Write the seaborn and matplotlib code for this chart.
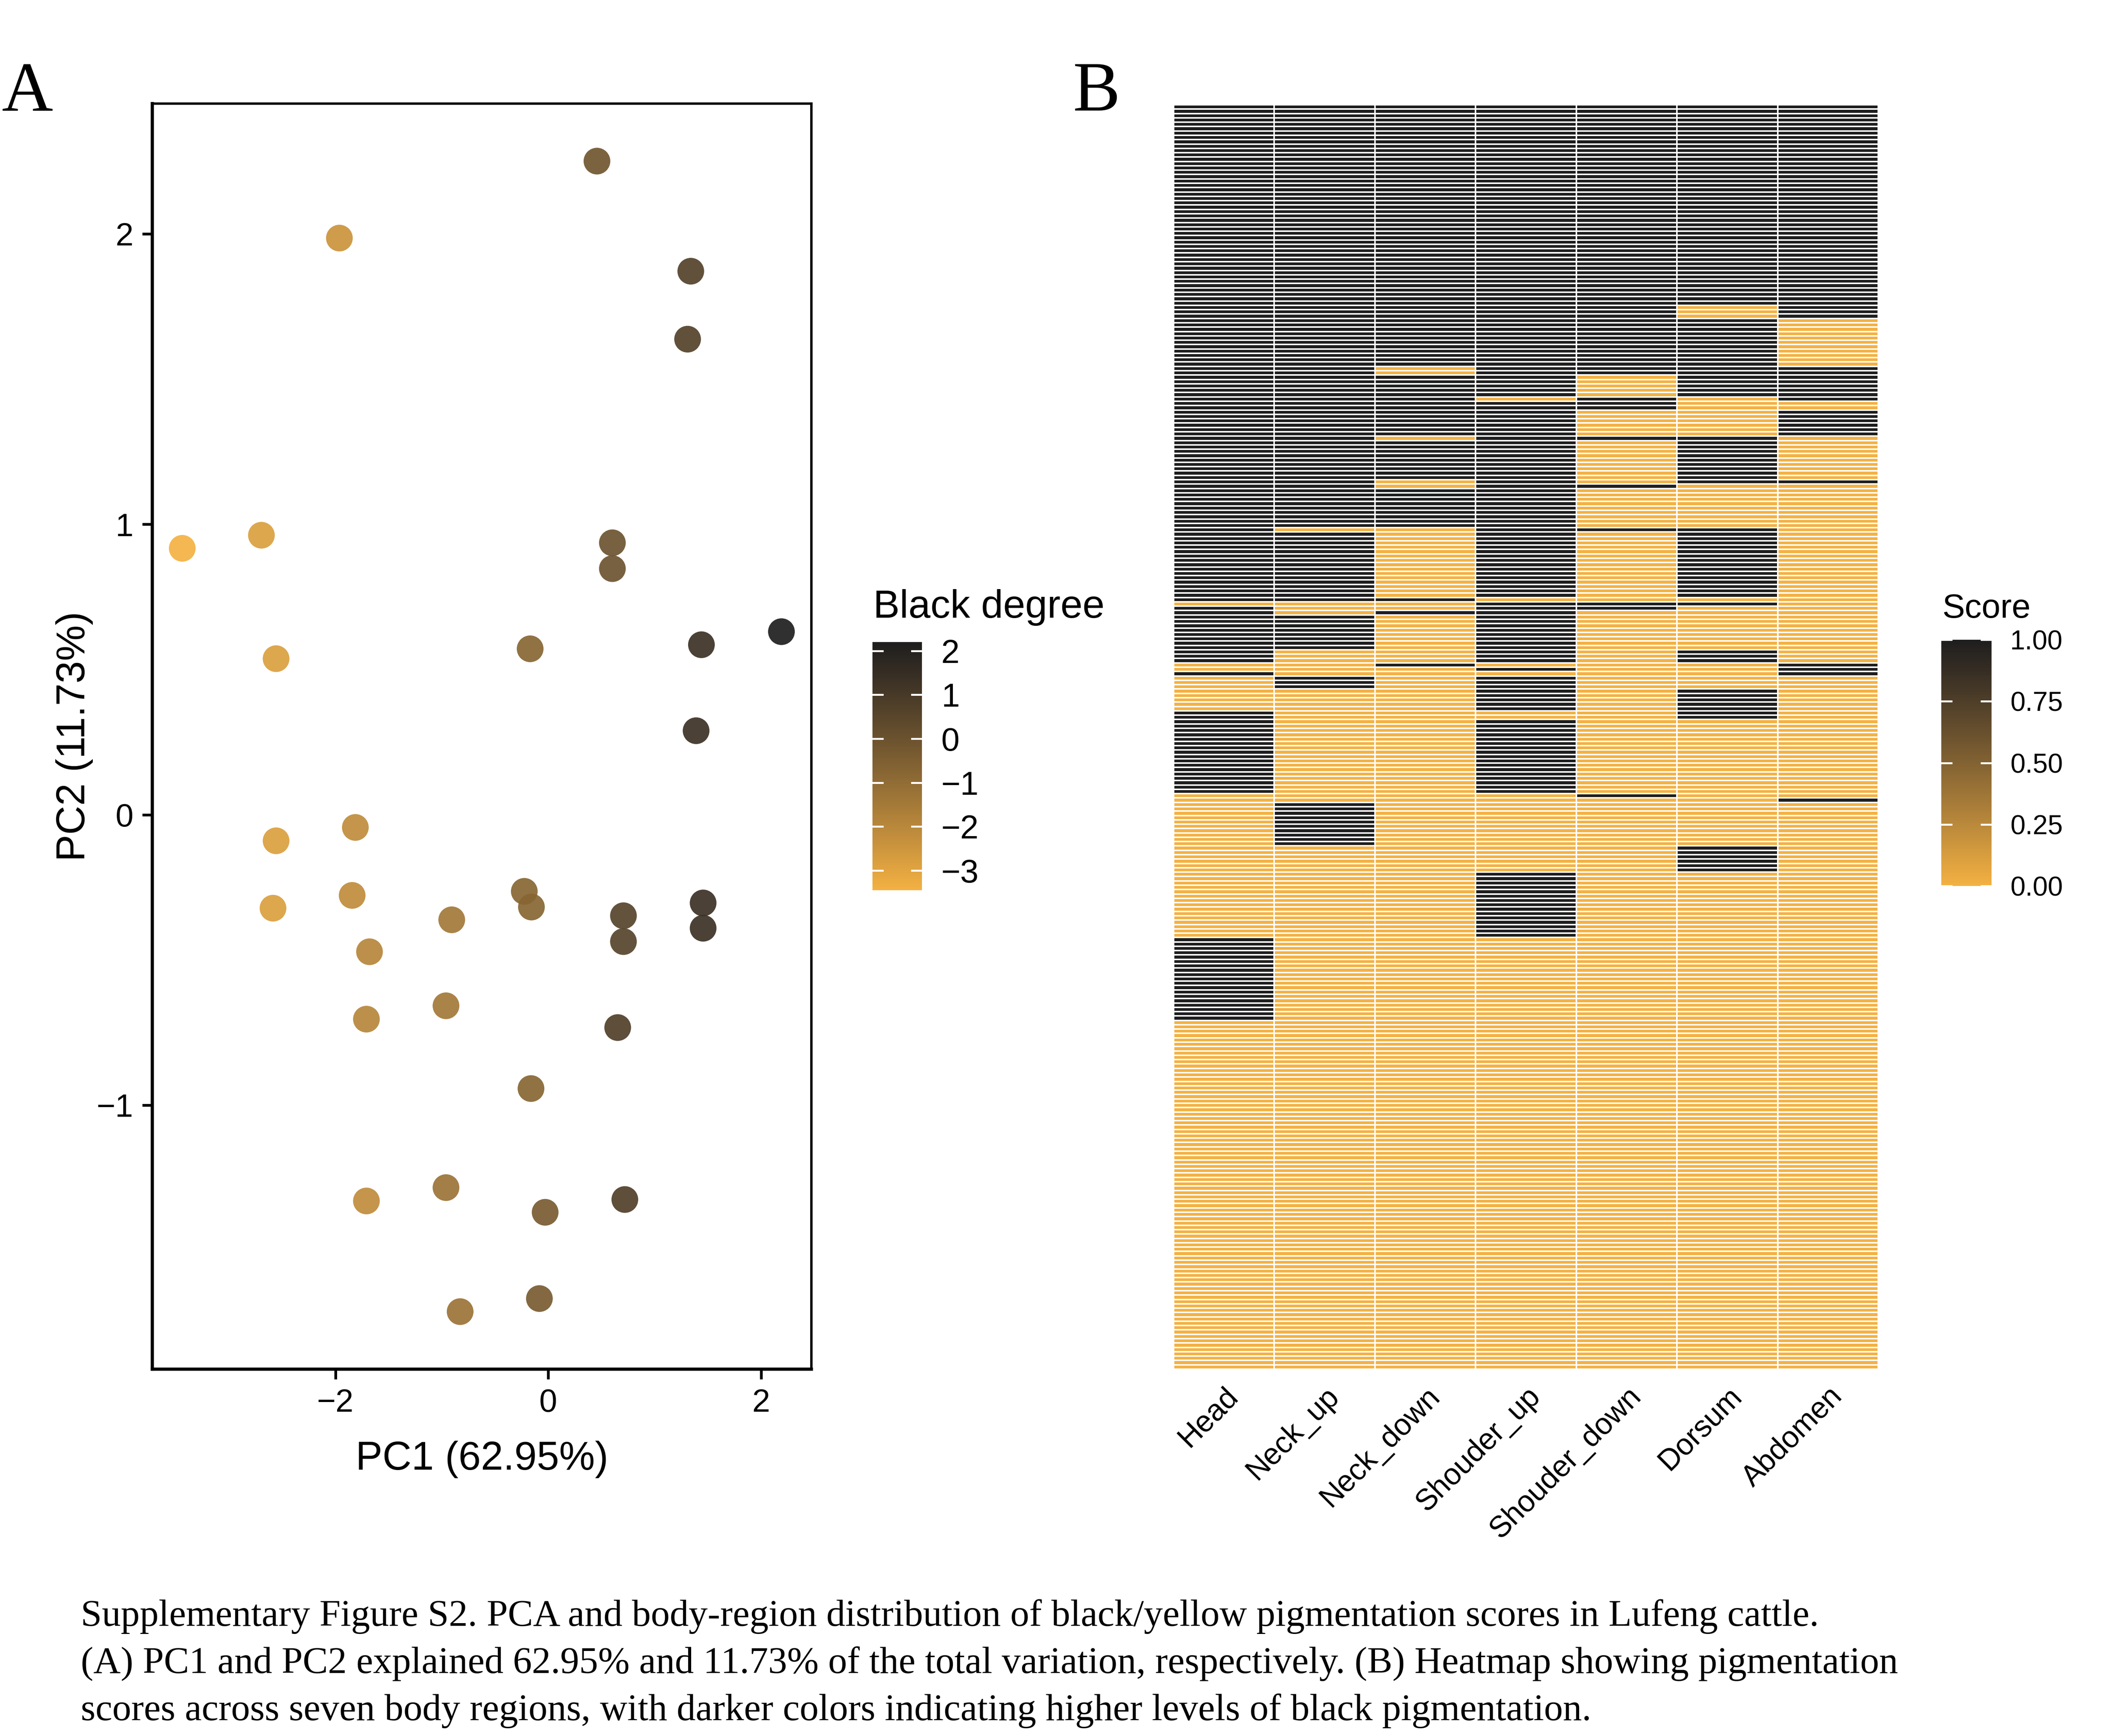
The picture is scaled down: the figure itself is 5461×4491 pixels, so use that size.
import numpy as np
import pandas as pd
import matplotlib
matplotlib.use('Agg')
import matplotlib.pyplot as plt
import matplotlib.colors as mcolors
import matplotlib.cm as cm
import seaborn as sns

# ==== DATA ====
# panel A: PCA scores and colour value (black degree)
PC1 = [0.458, -1.963, 1.340, 1.310, -3.440, -2.696, 0.603, 0.603, -2.558, -0.170,
       2.192, 1.440, 1.390, -2.558, -1.813, -2.587, -1.843, -0.907, -1.680, -0.225,
       -0.158, 0.707, 0.707, 1.456, 1.456, -1.709, -0.961, 0.653, -0.162, -1.709,
       -0.961, -0.029, 0.720, -0.828, -0.083]
PC2 = [2.250, 1.985, 1.871, 1.637, 0.917, 0.962, 0.936, 0.847, 0.537, 0.571,
       0.630, 0.585, 0.289, -0.090, -0.044, -0.322, -0.278, -0.362, -0.472, -0.264,
       -0.318, -0.348, -0.437, -0.304, -0.391, -0.704, -0.658, -0.733, -0.943, -1.330,
       -1.284, -1.369, -1.325, -1.711, -1.666]
BLACK_DEGREE = [-0.15, -2.45, 0.65, 0.65, -3.45, -2.85, -0.05, -0.05, -2.85, -0.75,
                2.20, 1.35, 1.35, -2.85, -2.15, -2.85, -2.15, -1.45, -1.95, -0.75,
                -0.75, 0.55, 0.55, 1.35, 1.35, -1.95, -1.45, 0.75, -0.75, -2.15,
                -1.25, -0.35, 0.75, -1.25, -0.35]
PC1_LABEL = 'PC1 (62.95%)'
PC2_LABEL = 'PC2 (11.73%)'
DEGREE_TICKS = [-3, -2, -1, 0, 1, 2]

# panel B: per-animal scores (rows, top to bottom), black runs given as inclusive index ranges
N_ANIMALS = 290
REGIONS = ['Head', 'Neck_up', 'Neck_down', 'Shouder_up', 'Shouder_down', 'Dorsum', 'Abdomen']
HEAD_BLACK = [(0, 113), (115, 127), (130, 130), (139, 157), (191, 209)]
NECK_UP_BLACK = [(0, 96), (98, 113), (117, 124), (131, 133), (160, 169)]
NECK_DOWN_BLACK = [(0, 59), (62, 75), (77, 85), (88, 96), (113, 113), (116, 116), (128, 128)]
SHOULDER_UP_BLACK = [(0, 66), (68, 112), (114, 127), (129, 129), (131, 138), (141, 157), (176, 190)]
SHOULDER_DOWN_BLACK = [(0, 61), (67, 69), (76, 76), (87, 87), (97, 97), (114, 115), (158, 158)]
DORSUM_BLACK = [(0, 45), (49, 66), (76, 86), (97, 112), (114, 114), (125, 127), (134, 140), (170, 175)]
ABDOMEN_BLACK = [(0, 48), (60, 67), (70, 75), (86, 86), (128, 130), (159, 159)]
SCORE_TICKS = [0.0, 0.25, 0.50, 0.75, 1.00]

CAPTION = [
    'Supplementary Figure S2. PCA and body-region distribution of black/yellow pigmentation scores in Lufeng cattle.',
    '(A) PC1 and PC2 explained 62.95% and 11.73% of the total variation, respectively. (B) Heatmap showing pigmentation',
    'scores across seven body regions, with darker colors indicating higher levels of black pigmentation.',
]

# ==== STYLE ====
W, H, DPI = 5461, 4491, 300
LOW_COL = '#F4B142'
HIGH_COL = '#1E1E1E'
SANS = ['Liberation Sans', 'DejaVu Sans']
SERIF = ['Liberation Serif', 'DejaVu Serif']
plt.rcParams['font.family'] = SANS
plt.rcParams['axes.unicode_minus'] = True

# ggplot-like gradient: interpolate in CIE Lab between the two end colours
_M = np.array([[0.4124, 0.3576, 0.1805], [0.2126, 0.7152, 0.0722], [0.0193, 0.1192, 0.9505]])
_WHITE = np.array([0.95047, 1.0, 1.08883])

def to_lab(col):
    rgb = np.array(mcolors.to_rgb(col))
    lin = np.where(rgb <= 0.04045, rgb / 12.92, ((rgb + 0.055) / 1.055) ** 2.4)
    xyz = _M @ lin / _WHITE
    f = np.where(xyz > 0.008856, np.cbrt(xyz), 7.787 * xyz + 16 / 116)
    return np.array([116 * f[1] - 16, 500 * (f[0] - f[1]), 200 * (f[1] - f[2])])

def from_lab(lab):
    fy = (lab[0] + 16) / 116
    f = np.array([fy + lab[1] / 500, fy, fy - lab[2] / 200])
    xyz = np.where(f ** 3 > 0.008856, f ** 3, (f - 16 / 116) / 7.787) * _WHITE
    lin = np.linalg.solve(_M, xyz)
    lin = np.clip(lin, 0, 1)
    rgb = np.where(lin <= 0.0031308, 12.92 * lin, 1.055 * lin ** (1 / 2.4) - 0.055)
    return np.clip(rgb, 0, 1)

lab_lo, lab_hi = to_lab(LOW_COL), to_lab(HIGH_COL)
grad = [from_lab(lab_lo + t * (lab_hi - lab_lo)) for t in np.linspace(0, 1, 256)]
cmap = mcolors.ListedColormap(grad, name='yellow_black')


def px_axes(fig, left, top, right, bottom):
    return fig.add_axes([left / W, 1 - bottom / H, (right - left) / W, (bottom - top) / H])


def ggplot_bar_ticks(cax, ticks):
    for t in ticks:
        cax.axhline(t, 0, 0.2, color='white', lw=1.2)
        cax.axhline(t, 0.8, 1, color='white', lw=1.2)


fig = plt.figure(figsize=(W / DPI, H / DPI), dpi=DPI)

# ==== PANEL A ====
ax_a = px_axes(fig, 394, 268, 2099, 3542)
pca = pd.DataFrame({'PC1': PC1, 'PC2': PC2, 'deg': BLACK_DEGREE})
norm_a = mcolors.Normalize(vmin=min(BLACK_DEGREE), vmax=max(BLACK_DEGREE))
sns.scatterplot(data=pca, x='PC1', y='PC2', hue='deg', palette=cmap, hue_norm=norm_a,
                s=275, alpha=0.92, linewidth=0, legend=False, ax=ax_a)
xr = pca['PC1'].max() - pca['PC1'].min()
yr = pca['PC2'].max() - pca['PC2'].min()
ax_a.set_xlim(pca['PC1'].min() - 0.05 * xr, pca['PC1'].max() + 0.05 * xr)
ax_a.set_ylim(pca['PC2'].min() - 0.05 * yr, pca['PC2'].max() + 0.05 * yr)
ax_a.set_xticks([-2, 0, 2])
ax_a.set_yticks([-1, 0, 1, 2])
for side in ['left', 'bottom']:
    ax_a.spines[side].set_linewidth(2.0)
for side in ['top', 'right']:
    ax_a.spines[side].set_linewidth(1.5)
ax_a.tick_params(direction='out', length=6.3, width=1.7, color='black',
                 labelsize=20, labelcolor='black', pad=5.5)
ax_a.set_xlabel(PC1_LABEL, fontsize=25, labelpad=14)
ax_a.set_ylabel(PC2_LABEL, fontsize=25, labelpad=2)

cax_a = px_axes(fig, 2257, 1661, 2385, 2303)
cb_a = fig.colorbar(cm.ScalarMappable(norm=norm_a, cmap=cmap), cax=cax_a, ticks=DEGREE_TICKS)
cb_a.outline.set_visible(False)
cax_a.tick_params(length=0, labelsize=20.5, pad=12)
ggplot_bar_ticks(cax_a, DEGREE_TICKS)
fig.text(2259 / W, 1 - 1598 / H, 'Black degree', fontsize=24.6, ha='left', va='baseline')

# ==== PANEL B ====
scores = pd.DataFrame(0.0, index=range(N_ANIMALS), columns=REGIONS)
for region, runs in zip(REGIONS, [HEAD_BLACK, NECK_UP_BLACK, NECK_DOWN_BLACK, SHOULDER_UP_BLACK,
                                  SHOULDER_DOWN_BLACK, DORSUM_BLACK, ABDOMEN_BLACK]):
    for start, end in runs:
        scores.loc[start:end, region] = 1.0

ax_b = px_axes(fig, 3036, 271, 4859, 3542)
cax_b = px_axes(fig, 5022, 1655, 5152, 2292)
sns.heatmap(scores, cmap=cmap, vmin=0, vmax=1, linewidths=0.95, linecolor='white',
            xticklabels=REGIONS, yticklabels=False, cbar_ax=cax_b,
            cbar_kws={'ticks': SCORE_TICKS}, ax=ax_b)
ax_b.set_xticklabels(REGIONS, rotation=45, ha='right', va='top',
                     rotation_mode='anchor', fontsize=18.5)
ax_b.tick_params(axis='x', length=0, pad=8)
ax_b.set_xlabel('')
ax_b.set_ylabel('')
cb_b = ax_b.collections[0].colorbar
cb_b.outline.set_visible(False)
cax_b.set_yticklabels([f'{t:.2f}' for t in SCORE_TICKS])
cax_b.tick_params(length=0, labelsize=16.8, pad=11.5)
ggplot_bar_ticks(cax_b, SCORE_TICKS)
fig.text(5024 / W, 1 - 1598 / H, 'Score', fontsize=21, ha='left', va='baseline')

# ==== LABELS / CAPTION ====
fig.text(4 / W, 1 - 286 / H, 'A', family=SERIF, fontsize=44, ha='left', va='baseline')
fig.text(2776 / W, 1 - 286 / H, 'B', family=SERIF, fontsize=44, ha='left', va='baseline')
for line, base in zip(CAPTION, [4206, 4328, 4450]):
    fig.text(209 / W, 1 - base / H, line, family=SERIF, fontsize=23.5, ha='left', va='baseline')

fig.savefig('out.png', dpi=DPI, facecolor='white')
